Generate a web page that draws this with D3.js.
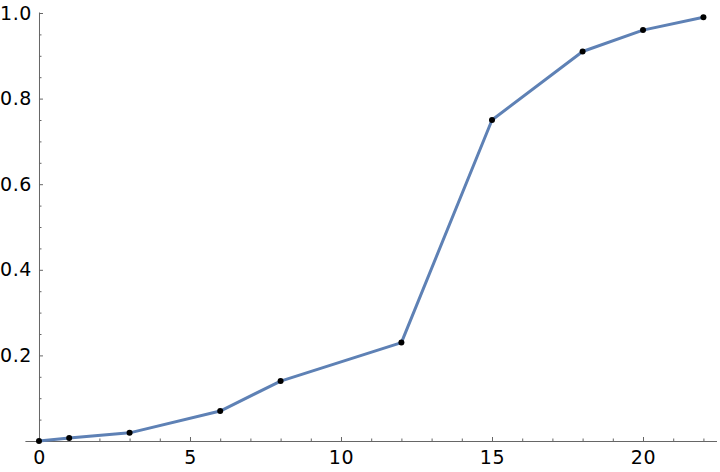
<!DOCTYPE html>
<html>
<head>
<meta charset="utf-8">
<script src="https://cdn.jsdelivr.net/npm/d3@7"></script>
<style>
  body { margin: 0; background: #fff; }
  svg { display: block; }
</style>
</head>
<body>
<div id="chart"></div>
<script>
// data
var xValues = [0, 1, 3, 6, 8, 12, 15, 18, 20, 22];
var yValues = [0, 0.007, 0.019, 0.07, 0.14, 0.23, 0.75, 0.91, 0.96, 0.99];
var xMajorTicks = [0, 5, 10, 15, 20];
var yMajorTicks = [0.2, 0.4, 0.6, 0.8, 1.0];

var width = 720, height = 472;

var svg = d3.select("#chart")
  .append("svg")
    .attr("width", width)
    .attr("height", height);

var x = d3.scaleLinear().domain([-0.45, 22.45]).range([25.4, 717]);
var y = d3.scaleLinear().domain([0, 1]).range([441, 13]);

var axisColor = "#666";
var fontFamily = "DejaVu Sans";
var fontSize = "19px";

// x axis
var xMinor = d3.range(0, 23, 1).filter(function(d) { return xMajorTicks.indexOf(d) < 0; });
var xAxis = d3.axisBottom(x)
  .tickValues(xMajorTicks)
  .tickSize(-4)
  .tickPadding(10)
  .tickFormat(d3.format("d"));
var gx = svg.append("g")
  .attr("transform", "translate(0," + y(0) + ")")
  .call(xAxis);
gx.select(".domain").attr("d", "M" + x.range()[0] + ",0.5H" + x.range()[1]);
gx.selectAll("line, path").attr("stroke", axisColor);
gx.selectAll("text")
  .attr("fill", "#000")
  .style("font-family", fontFamily)
  .style("font-size", fontSize)
  .style("letter-spacing", "0.6px");
gx.selectAll(".minor")
  .data(xMinor)
  .enter()
  .append("line")
    .attr("class", "minor")
    .attr("x1", function(d) { return x(d) + 0.5; })
    .attr("x2", function(d) { return x(d) + 0.5; })
    .attr("y1", 0)
    .attr("y2", -2.5)
    .attr("stroke", axisColor);

// y axis
var yMinor = d3.range(0.05, 1.0, 0.05).filter(function(d) {
  return Math.abs(Math.round(d * 5) - d * 5) > 1e-6;
});
var yAxis = d3.axisLeft(y)
  .tickValues(yMajorTicks)
  .tickSize(-4)
  .tickPadding(7)
  .tickFormat(d3.format(".1f"));
var gy = svg.append("g")
  .attr("transform", "translate(" + x(0) + ",0)")
  .call(yAxis);
gy.select(".domain").attr("d", "M0.5," + y(0) + "V" + (y(1) - 0.5));
gy.selectAll("line, path").attr("stroke", axisColor);
gy.selectAll("text")
  .attr("fill", "#000")
  .style("font-family", fontFamily)
  .style("font-size", fontSize)
  .style("letter-spacing", "0.6px");
gy.selectAll(".minor")
  .data(yMinor)
  .enter()
  .append("line")
    .attr("class", "minor")
    .attr("x1", 0)
    .attr("x2", 2.5)
    .attr("y1", function(d) { return y(d) + 0.5; })
    .attr("y2", function(d) { return y(d) + 0.5; })
    .attr("stroke", axisColor);

// the line
var points = xValues.map(function(d, i) { return {x: d, y: yValues[i]}; });
svg.append("path")
  .datum(points)
  .attr("fill", "none")
  .attr("stroke", "#5e81b5")
  .attr("stroke-width", 3)
  .attr("stroke-linejoin", "round")
  .attr("d", d3.line()
    .x(function(d) { return x(d.x); })
    .y(function(d) { return y(d.y); }));

svg.selectAll(".pt")
  .data(points)
  .enter()
  .append("circle")
    .attr("class", "pt")
    .attr("cx", function(d) { return x(d.x); })
    .attr("cy", function(d) { return y(d.y); })
    .attr("r", 3)
    .attr("fill", "#000");
</script>
</body>
</html>
